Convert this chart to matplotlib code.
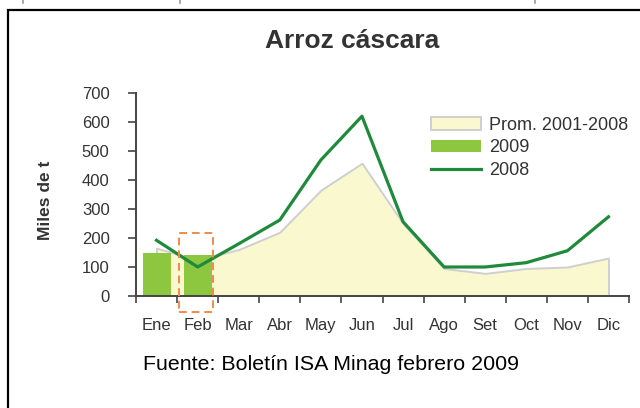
import numpy as np
import matplotlib
matplotlib.use("Agg")
import matplotlib.pyplot as plt
from matplotlib.patches import Rectangle
from matplotlib.lines import Line2D

months = ["Ene", "Feb", "Mar", "Abr", "May", "Jun", "Jul", "Ago", "Set", "Oct", "Nov", "Dic"]
prom_2001_2008 = [165, 125, 160, 220, 365, 458, 250, 95, 78, 95, 100, 131]
y2009 = [149, 141]
y2008 = [192, 100, 180, 262, 469, 620, 256, 100, 100, 115, 156, 273]
yticks = [0, 100, 200, 300, 400, 500, 600, 700]

W, H = 640, 408
fig = plt.figure(figsize=(W / 100, H / 100), dpi=100)
fig.patch.set_facecolor("white")

reg = ["Liberation Sans", "DejaVu Sans"]
txt_col = "#333333"

# outer frame
fig.add_artist(Rectangle((8 / W, -0.05), 1.2, 1 - 10 / H + 0.05, transform=fig.transFigure,
                         fill=False, edgecolor="black", lw=1.6))
for xp in (23, 180, 535):
    fig.add_artist(Line2D([xp / W, xp / W], [1, 1 - 3 / H], transform=fig.transFigure,
                          color="#999999", lw=1.2))

ax = fig.add_axes([136 / W, 1 - 296 / H, (629 - 136) / W, (296 - 93) / H])
x = np.arange(len(months))
ax.set_xlim(-0.5, 11.5)
ax.set_ylim(0, 700)

area = ax.fill_between(x, prom_2001_2008, 0, facecolor="#FAF8CF", edgecolor="#CFCFCF", lw=1.4,
                       zorder=1, label="Prom. 2001-2008")
bars = ax.bar(x[:len(y2009)], y2009, width=0.68, color="#8DC63F", zorder=2, label="2009")
line, = ax.plot(x, y2008, color="#1F8A3B", lw=2.3, zorder=3, label="2008")

ax.add_patch(Rectangle((0.55, -55), 0.82, 272, fill=False, edgecolor="#F08A4B", lw=1.4,
                       ls=(0, (4, 2.5)), clip_on=False, zorder=4))

for s in ("top", "right"):
    ax.spines[s].set_visible(False)
for s in ("left", "bottom"):
    ax.spines[s].set_color("#444444")
    ax.spines[s].set_linewidth(1.4)

ax.set_yticks(yticks)
ax.set_yticklabels([str(v) for v in yticks], family=reg, fontsize=12, color=txt_col)
ax.tick_params(axis="y", length=6, width=1.2, color="#444444", pad=13)

bounds = np.arange(-0.5, 12, 1.0)
ax.set_xticks(bounds)
ax.set_xticklabels([])
ax.tick_params(axis="x", which="major", length=5, width=1.2, color="#444444")
ax.set_xticks(x, minor=True)
ax.set_xticklabels(months, minor=True, family=reg, fontsize=12, color=txt_col)
ax.tick_params(axis="x", which="minor", length=0, pad=16)

fig.text(46 / W, 1 - 200 / H, "Miles de t", rotation=90, ha="center", va="center",
         family=reg, fontsize=12.5, fontweight="bold", color=txt_col)

fig.text(352 / W, 1 - 41 / H, "Arroz cáscara", ha="center", va="center",
         family=reg, fontsize=19, fontweight="bold", color=txt_col)

fig.text(143 / W, 1 - 365 / H, "Fuente: Boletín ISA Minag febrero 2009", ha="left", va="center",
         family=reg, fontsize=15.4, color="black")

leg = ax.legend([area, bars, line], ["Prom. 2001-2008", "2009", "2008"],
                loc="upper left", bbox_to_anchor=(431 / W, 1 - 117 / H), bbox_transform=fig.transFigure,
                frameon=False, prop={"family": reg, "size": 13}, handlelength=2.75,
                handleheight=0.7, handletextpad=0.45, labelspacing=0.3, borderpad=0, borderaxespad=0)
for t in leg.get_texts():
    t.set_color(txt_col)

fig.savefig("out.png", dpi=100, facecolor="white")
